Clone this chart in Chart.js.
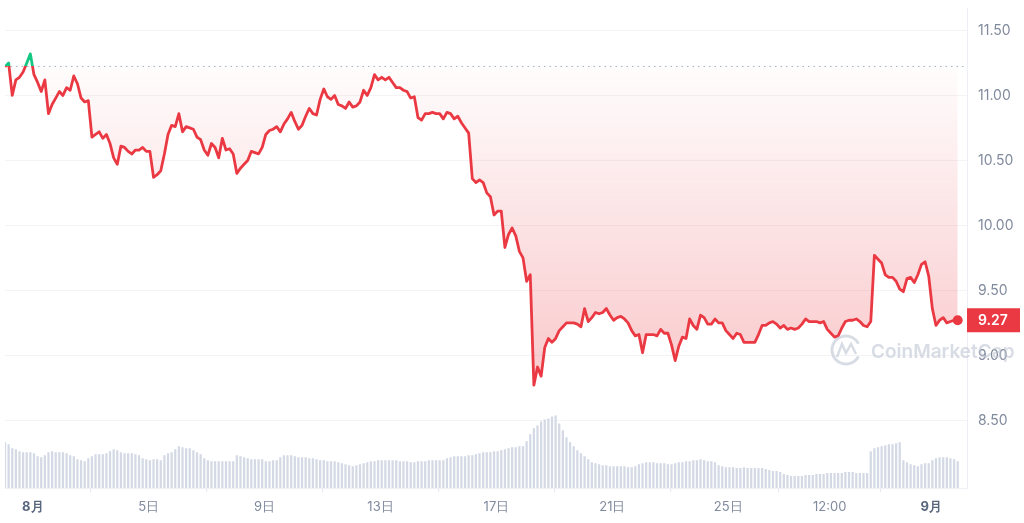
<!DOCTYPE html>
<html>
<head>
<meta charset="utf-8">
<title>Price chart</title>
<script src="https://cdn.jsdelivr.net/npm/chart.js@4.4.0/dist/chart.umd.min.js"></script>
<style>
  html, body { margin: 0; padding: 0; background: #fff; }
  #wrap { width: 1024px; height: 523px; }
</style>
</head>
<body>
<div id="wrap"><canvas id="price-chart" width="1024" height="523"></canvas></div>
<script>
// Samples every 3 hours; hour 0 = Aug 1 00:00, first sample Jul 31 01:00
const START_HOUR = -23;
const STEP_HOURS = 3;

const prices = [
  11.22, 11.25, 11.00, 11.12, 11.14, 11.18, 11.25, 11.32, 11.16, 11.10, 11.03, 11.12,
  10.86, 10.93, 10.98, 11.03, 11.00, 11.06, 11.04, 11.15, 11.09, 10.98, 10.95, 10.96,
  10.68, 10.70, 10.72, 10.67, 10.70, 10.63, 10.52, 10.47, 10.61, 10.60, 10.57, 10.55,
  10.58, 10.58, 10.60, 10.57, 10.57, 10.37, 10.39, 10.42, 10.55, 10.70, 10.77, 10.76,
  10.86, 10.72, 10.76, 10.75, 10.74, 10.68, 10.66, 10.58, 10.54, 10.63, 10.60, 10.52,
  10.67, 10.58, 10.59, 10.55, 10.40, 10.44, 10.47, 10.50, 10.57, 10.56, 10.55, 10.60,
  10.70, 10.73, 10.74, 10.76, 10.72, 10.78, 10.82, 10.87, 10.80, 10.74, 10.77, 10.84,
  10.90, 10.86, 10.85, 10.97, 11.05, 10.99, 10.97, 11.00, 10.93, 10.92, 10.90, 10.95,
  10.91, 10.92, 10.95, 11.04, 11.00, 11.06, 11.16, 11.12, 11.14, 11.12, 11.14, 11.10,
  11.06, 11.06, 11.04, 11.03, 10.98, 10.99, 10.83, 10.81, 10.86, 10.86, 10.87, 10.86,
  10.86, 10.82, 10.87, 10.86, 10.82, 10.84, 10.79, 10.75, 10.71, 10.36, 10.33, 10.35,
  10.33, 10.25, 10.22, 10.08, 10.11, 10.11, 9.83, 9.93, 9.98, 9.92, 9.80, 9.75,
  9.57, 9.62, 8.77, 8.91, 8.84, 9.06, 9.13, 9.10, 9.13, 9.19, 9.22, 9.25,
  9.25, 9.25, 9.24, 9.22, 9.36, 9.26, 9.29, 9.33, 9.32, 9.33, 9.36, 9.31,
  9.27, 9.29, 9.30, 9.28, 9.25, 9.19, 9.15, 9.16, 9.02, 9.16, 9.16, 9.16,
  9.15, 9.20, 9.17, 9.17, 9.08, 8.96, 9.07, 9.14, 9.13, 9.28, 9.23, 9.20,
  9.31, 9.29, 9.24, 9.24, 9.28, 9.25, 9.25, 9.19, 9.16, 9.13, 9.17, 9.16,
  9.10, 9.10, 9.10, 9.10, 9.16, 9.23, 9.23, 9.25, 9.26, 9.24, 9.21, 9.23,
  9.20, 9.21, 9.20, 9.21, 9.24, 9.28, 9.26, 9.26, 9.26, 9.25, 9.26, 9.20,
  9.17, 9.14, 9.15, 9.21, 9.26, 9.27, 9.27, 9.28, 9.26, 9.23, 9.22, 9.26,
  9.77, 9.74, 9.71, 9.62, 9.60, 9.60, 9.57, 9.51, 9.49, 9.59, 9.60, 9.56,
  9.62, 9.70, 9.72, 9.61, 9.36, 9.23, 9.27, 9.29, 9.25, 9.26, 9.27, 9.27
];

// Volume, millions
const volumes = [
  18.4, 17.6, 16.0, 15.6, 14.8, 14.4, 14.4, 14.4, 14.0, 12.8, 12.4, 13.2,
  14.4, 14.8, 14.4, 14.4, 14.4, 14.0, 13.2, 12.8, 11.6, 11.2, 10.8, 12.0,
  12.8, 13.6, 13.6, 13.6, 14.0, 14.8, 15.6, 15.2, 14.4, 14.0, 14.0, 14.0,
  13.6, 13.2, 12.0, 11.6, 11.2, 11.6, 11.6, 11.2, 13.2, 14.0, 14.4, 15.6,
  16.8, 16.4, 16.0, 16.0, 15.2, 14.4, 13.6, 12.0, 11.2, 10.8, 10.8, 10.8,
  10.8, 10.8, 10.8, 10.8, 13.2, 12.8, 12.4, 12.0, 11.6, 11.6, 11.6, 11.6,
  10.8, 10.8, 11.2, 11.2, 12.4, 13.2, 13.2, 13.2, 12.8, 12.4, 12.4, 12.4,
  12.0, 12.0, 11.6, 11.2, 11.2, 10.8, 10.8, 10.8, 10.4, 10.0, 9.6, 9.2,
  8.8, 9.2, 9.6, 10.0, 10.4, 10.8, 10.8, 11.2, 11.2, 11.2, 11.2, 11.2,
  11.2, 10.8, 10.8, 10.8, 10.4, 10.4, 10.8, 10.8, 10.8, 11.2, 11.2, 11.2,
  11.2, 11.2, 12.0, 12.4, 12.8, 12.8, 12.8, 12.8, 13.2, 13.2, 13.6, 14.0,
  14.4, 14.4, 14.4, 14.8, 14.8, 15.2, 15.6, 16.0, 16.4, 16.4, 16.8, 16.8,
  18.8, 21.6, 24.0, 25.2, 26.8, 27.6, 28.0, 28.8, 29.2, 26.0, 23.2, 20.4,
  18.4, 16.8, 15.2, 14.0, 12.8, 11.6, 10.4, 10.0, 9.6, 9.2, 9.2, 8.8,
  8.8, 8.8, 8.8, 8.8, 8.4, 8.4, 8.8, 9.6, 10.0, 10.4, 10.4, 10.4,
  10.0, 10.0, 10.0, 9.6, 9.6, 10.0, 10.4, 10.4, 10.8, 10.8, 11.2, 11.2,
  11.6, 11.2, 10.8, 10.8, 10.4, 9.2, 8.8, 8.4, 8.4, 8.4, 8.0, 8.0,
  8.4, 8.0, 8.0, 8.0, 8.0, 8.0, 7.6, 7.2, 6.8, 6.8, 6.4, 5.6,
  5.2, 4.8, 4.8, 4.8, 4.8, 5.2, 5.2, 5.2, 5.6, 5.6, 5.6, 6.0,
  6.0, 6.0, 6.0, 6.0, 6.4, 6.4, 6.4, 6.0, 6.0, 6.0, 6.0, 14.8,
  16.0, 16.4, 16.8, 17.2, 17.6, 17.6, 18.0, 18.4, 11.2, 10.4, 9.6, 9.2,
  8.8, 9.6, 10.0, 10.0, 11.2, 12.0, 12.4, 12.4, 12.4, 12.0, 11.6, 10.8
];

const baseline = 11.23;
const priceTicks = [8.5, 9.0, 9.5, 10.0, 10.5, 11.0, 11.5];
const tickHours = [0, 96, 192, 288, 384, 480, 576, 660, 744];
const tickLabels = ['8月', '5日', '9日', '13日', '17日', '21日', '25日', '12:00', '9月'];
const monthLabels = ['8月', '9月'];

const RED = '#ea3943';
const GREEN = '#16c784';
const AXIS_TEXT = '#808a9d';

const hourAt = i => START_HOUR + i * STEP_HOURS;
const pricePoints = prices.map((p, i) => ({ x: hourAt(i), y: p }));
const volumePoints = volumes.map((v, i) => ({ x: hourAt(i), y: v }));

/**
 * Fraction of the chart area height where a price sits
 */
function fractionOf(chart, value) {
  const area = chart.chartArea;
  const y = chart.scales.y.getPixelForValue(value);
  return Math.min(Math.max((y - area.top) / (area.bottom - area.top), 0), 1);
}

function lineColor(ctx) {
  const chart = ctx.chart;
  const area = chart.chartArea;
  if (!area) return RED;
  const f = fractionOf(chart, baseline);
  const g = chart.ctx.createLinearGradient(0, area.top, 0, area.bottom);
  g.addColorStop(0, GREEN);
  g.addColorStop(f, GREEN);
  g.addColorStop(f, RED);
  g.addColorStop(1, RED);
  return g;
}

function fillColor(ctx) {
  const chart = ctx.chart;
  const area = chart.chartArea;
  if (!area) return 'rgba(234,57,67,0.1)';
  const f = fractionOf(chart, baseline);
  const deep = fractionOf(chart, 9.0);
  const g = chart.ctx.createLinearGradient(0, area.top, 0, area.bottom);
  g.addColorStop(0, 'rgba(22,199,132,0.15)');
  g.addColorStop(f, 'rgba(22,199,132,0.05)');
  g.addColorStop(f, 'rgba(234,57,67,0.01)');
  g.addColorStop(deep, 'rgba(234,57,67,0.25)');
  g.addColorStop(1, 'rgba(234,57,67,0.28)');
  return g;
}

// dotted line at the opening price
const baselinePlugin = {
  id: 'baseline',
  beforeDatasetsDraw(chart) {
    const { ctx, chartArea } = chart;
    const y = Math.round(chart.scales.y.getPixelForValue(baseline)) + 0.5;
    ctx.save();
    ctx.strokeStyle = '#a9b2c1';
    ctx.lineWidth = 1;
    ctx.setLineDash([1.5, 4]);
    ctx.beginPath();
    ctx.moveTo(chartArea.left, y);
    ctx.lineTo(chartArea.right, y);
    ctx.stroke();
    ctx.restore();
  }
};

const watermarkPlugin = {
  id: 'watermark',
  afterDraw(chart) {
    const { ctx } = chart;
    ctx.save();
    ctx.globalAlpha = 0.55;
    ctx.strokeStyle = '#b8c0cd';
    ctx.fillStyle = '#b8c0cd';
    ctx.lineWidth = 3;
    ctx.beginPath();
    ctx.arc(846, 350, 14, 0.15 * Math.PI, 1.85 * Math.PI, false);
    ctx.stroke();
    ctx.lineWidth = 2.5;
    ctx.beginPath();
    ctx.moveTo(837, 357);
    ctx.lineTo(842, 344);
    ctx.lineTo(846, 353);
    ctx.lineTo(851, 344);
    ctx.lineTo(856, 354);
    ctx.stroke();
    ctx.font = '600 19px Inter';
    ctx.textBaseline = 'alphabetic';
    ctx.textAlign = 'left';
    ctx.fillText('CoinMarketCap', 871, 358);
    ctx.restore();
  }
};

// red tag with the latest price on the axis
const lastPricePlugin = {
  id: 'lastPrice',
  afterDraw(chart) {
    const { ctx, chartArea } = chart;
    const last = prices[prices.length - 1];
    const y = chart.scales.y.getPixelForValue(last);
    ctx.save();
    ctx.fillStyle = RED;
    ctx.fillRect(chartArea.right, y - 12, 53, 24);
    ctx.fillStyle = '#fff';
    ctx.font = '600 14px Inter';
    ctx.textBaseline = 'middle';
    ctx.textAlign = 'left';
    ctx.fillText(last.toFixed(2), chartArea.right + 11, y + 1);
    ctx.restore();
  }
};

const chart = new Chart(document.getElementById('price-chart'), {
  type: 'line',
  data: {
    datasets: [
      {
        type: 'line',
        data: pricePoints,
        yAxisID: 'y',
        borderColor: lineColor,
        backgroundColor: fillColor,
        fill: { value: baseline },
        borderWidth: 2.8,
        borderJoinStyle: 'round',
        tension: 0,
        pointRadius: c => (c.dataIndex === prices.length - 1 ? 5 : 0),
        pointBackgroundColor: RED,
        pointBorderColor: RED,
        pointBorderWidth: 0,
        order: 1
      },
      {
        type: 'bar',
        data: volumePoints,
        yAxisID: 'yv',
        backgroundColor: '#d3d9e5',
        barPercentage: 0.62,
        categoryPercentage: 1,
        order: 2
      }
    ]
  },
  options: {
    responsive: false,
    animation: false,
    layout: { padding: 0 },
    plugins: { legend: { display: false }, tooltip: { enabled: false } },
    scales: {
      x: {
        type: 'linear',
        min: START_HOUR,
        max: 773.7,
        offset: false,
        afterBuildTicks: s => { s.ticks = tickHours.map(v => ({ value: v })); },
        afterFit: s => { s.height = 35; },
        grid: { drawOnChartArea: false, drawTicks: true, tickLength: 4, tickColor: '#e3e7ee' },
        border: { display: true, color: '#eff1f4' },
        ticks: {
          autoSkip: false,
          maxRotation: 0,
          padding: 7,
          callback: v => tickLabels[tickHours.indexOf(v)],
          color: c => (monthLabels.includes(tickLabels[c.index]) ? '#58667e' : AXIS_TEXT),
          font: c => ({
            family: 'Inter',
            size: 13,
            weight: monthLabels.includes(tickLabels[c.index]) ? '700' : '400'
          })
        }
      },
      y: {
        position: 'right',
        min: 7.979,
        max: 11.67,
        afterBuildTicks: s => { s.ticks = priceTicks.map(v => ({ value: v })); },
        afterFit: s => { s.width = 57; },
        grid: { color: 'rgba(0,0,0,0.045)', drawTicks: true, tickLength: 11, tickColor: 'transparent' },
        border: { display: true, color: '#eceff3' },
        ticks: {
          padding: 0,
          color: AXIS_TEXT,
          font: { family: 'Inter', size: 14 },
          callback: v => v.toFixed(2)
        }
      },
      yv: {
        display: false,
        min: 0,
        max: 193
      }
    }
  },
  plugins: [baselinePlugin, watermarkPlugin, lastPricePlugin]
});
</script>
</body>
</html>
